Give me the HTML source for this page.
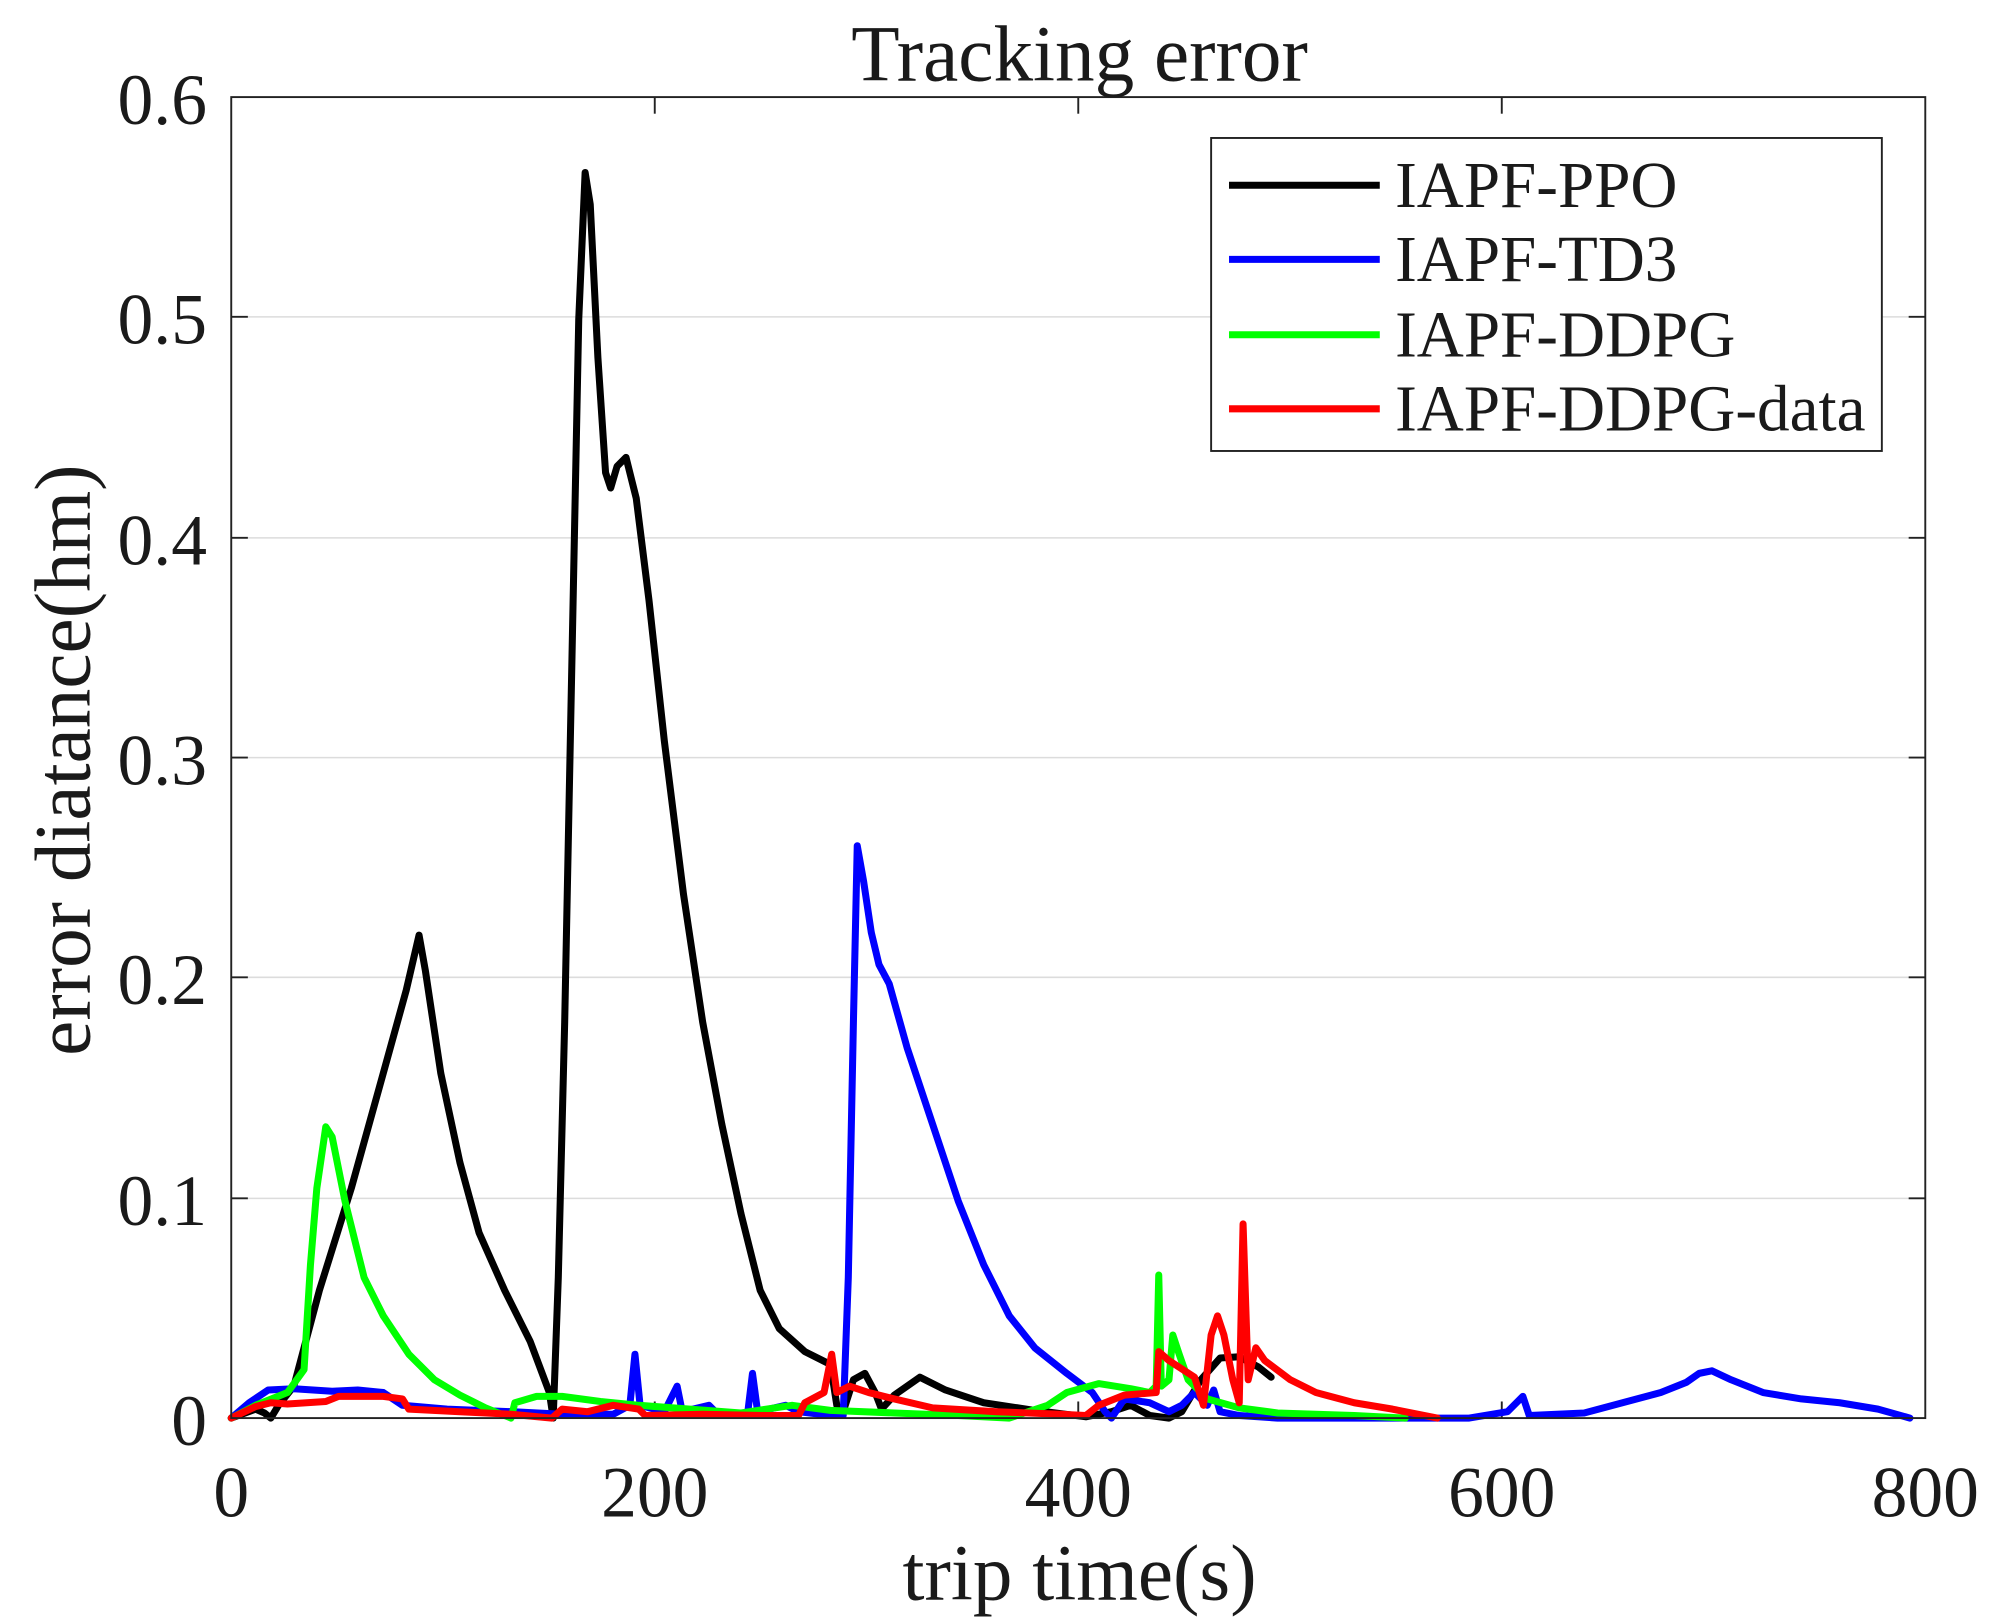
<!DOCTYPE html>
<html><head><meta charset="utf-8"><style>html,body{margin:0;padding:0;background:#fff}svg{display:block}</style></head>
<body>
<svg width="1993" height="1617" viewBox="0 0 1560 1265.7" xmlns="http://www.w3.org/2000/svg" font-family="Liberation Serif, serif" fill="#1a1a1a">
<rect width="1560" height="1266" fill="#fff"/>
<g stroke="#dcdcdc" stroke-width="1.2">
<line x1="181" x2="1507" y1="938" y2="938"/><line x1="181" x2="1507" y1="765" y2="765"/>
<line x1="181" x2="1507" y1="593" y2="593"/><line x1="181" x2="1507" y1="421" y2="421"/>
<line x1="181" x2="1507" y1="248" y2="248"/>
</g>
<g stroke="#222" stroke-width="1.5">
<line x1="181" x2="194" y1="938" y2="938"/><line x1="181" x2="194" y1="765" y2="765"/><line x1="181" x2="194" y1="593" y2="593"/><line x1="181" x2="194" y1="421" y2="421"/><line x1="181" x2="194" y1="248" y2="248"/>
<line x1="1494" x2="1507" y1="938" y2="938"/><line x1="1494" x2="1507" y1="765" y2="765"/><line x1="1494" x2="1507" y1="593" y2="593"/><line x1="1494" x2="1507" y1="421" y2="421"/><line x1="1494" x2="1507" y1="248" y2="248"/>
<line x1="512.5" x2="512.5" y1="1110" y2="1097"/><line x1="844" x2="844" y1="1110" y2="1097"/><line x1="1175.5" x2="1175.5" y1="1110" y2="1097"/>
<line x1="512.5" x2="512.5" y1="76" y2="89"/><line x1="844" x2="844" y1="76" y2="89"/><line x1="1175.5" x2="1175.5" y1="76" y2="89"/>
</g>
<g fill="none" stroke-width="5.5" stroke-linejoin="round" stroke-linecap="round">
<polyline stroke="#000" points="181,1110 200,1103 207,1106 212,1110 218,1100 230,1085 250,1010 275,930 300,840 318,775 328,732 333,760 345,840 360,910 375,965 395,1010 415,1050 430,1090 433,1110 437,1000 442,800 448,500 453,250 458,135 462,160 468,280 474,370 478,382 483,365 490,358 498,390 508,470 520,580 535,700 550,800 565,880 580,950 595,1010 610,1040 630,1058 650,1068 655,1100 660,1105 668,1080 677,1075 685,1090 690,1103 700,1092 720,1078 740,1088 770,1098 810,1104 850,1109 870,1105 885,1100 900,1108 915,1110 925,1105 940,1080 955,1063 970,1062 985,1070 995,1078"/>
<polyline stroke="#0000ff" points="181,1110 195,1098 210,1088 230,1087 260,1089 280,1088 300,1090 315,1100 350,1103 400,1105 440,1107 480,1107 493,1100 497,1060 501,1100 520,1105 530,1085 534,1105 555,1100 560,1105 585,1108 589,1075 593,1105 615,1100 625,1105 650,1108 660,1108 664,1000 668,800 671,662 676,690 682,730 688,755 696,770 710,820 730,880 750,940 770,990 790,1030 810,1055 835,1075 855,1090 865,1105 870,1110 880,1095 900,1098 915,1105 925,1100 935,1090 945,1100 950,1088 955,1105 970,1108 1000,1110 1100,1110 1150,1110 1180,1105 1192,1093 1197,1108 1240,1106 1270,1098 1300,1090 1320,1082 1330,1075 1340,1073 1355,1080 1380,1090 1410,1095 1440,1098 1470,1103 1495,1110"/>
<polyline stroke="#00ff00" points="181,1110 200,1100 225,1090 238,1072 243,990 248,930 255,882 260,890 270,940 285,1000 300,1030 320,1060 340,1080 360,1092 380,1102 400,1110 403,1098 420,1093 440,1093 470,1097 500,1100 540,1103 580,1106 620,1100 650,1104 700,1106 750,1108 790,1110 820,1100 835,1090 860,1083 885,1087 900,1090 905,1085 907,998 909,1085 915,1080 918,1045 923,1060 930,1080 945,1095 970,1102 1000,1106 1030,1107 1060,1108 1100,1110"/>
<polyline stroke="#ff0000" points="181,1110 200,1101 212,1098 225,1099 255,1097 265,1093 300,1093 315,1095 320,1103 360,1105 400,1107 432,1110 440,1103 460,1105 480,1100 500,1103 505,1108 550,1107 600,1108 625,1108 630,1098 645,1090 651,1060 655,1090 665,1085 680,1090 700,1095 730,1102 780,1105 830,1107 850,1108 860,1100 880,1092 905,1090 907,1058 915,1065 935,1078 942,1100 948,1045 953,1030 958,1045 965,1080 970,1098 973,958 977,1080 983,1055 990,1065 1010,1080 1030,1090 1060,1098 1090,1103 1125,1110"/>
</g>
<rect x="181" y="76" width="1326" height="1034" fill="none" stroke="#222" stroke-width="1.5"/>
<rect x="948" y="108" width="525" height="245" fill="#fff" stroke="#222" stroke-width="1.5"/>
<g stroke-width="5.5">
<line x1="962" x2="1080" y1="145" y2="145" stroke="#000"/>
<line x1="962" x2="1080" y1="203" y2="203" stroke="#0000ff"/>
<line x1="962" x2="1080" y1="262" y2="262" stroke="#00ff00"/>
<line x1="962" x2="1080" y1="320" y2="320" stroke="#ff0000"/>
</g>
<g font-size="51">
<text x="1092" y="162">IAPF-PPO</text>
<text x="1092" y="220">IAPF-TD3</text>
<text x="1092" y="279">IAPF-DDPG</text>
<text x="1092" y="337">IAPF-DDPG-data</text>
</g>
<g font-size="56" text-anchor="end">
<text x="162" y="97">0.6</text><text x="162" y="269">0.5</text><text x="162" y="442">0.4</text>
<text x="162" y="614">0.3</text><text x="162" y="786">0.2</text><text x="162" y="959">0.1</text><text x="162" y="1131">0</text>
</g>
<g font-size="56" text-anchor="middle">
<text x="181" y="1187">0</text><text x="512.5" y="1187">200</text><text x="844" y="1187">400</text><text x="1175.5" y="1187">600</text><text x="1507" y="1187">800</text>
</g>
<g font-size="62" text-anchor="middle">
<text x="845" y="1252">trip time(s)</text>
<text x="845" y="63">Tracking error</text>
<text transform="translate(70,595) rotate(-90)">error diatance(hm)</text>
</g>
</svg>
</body></html>
